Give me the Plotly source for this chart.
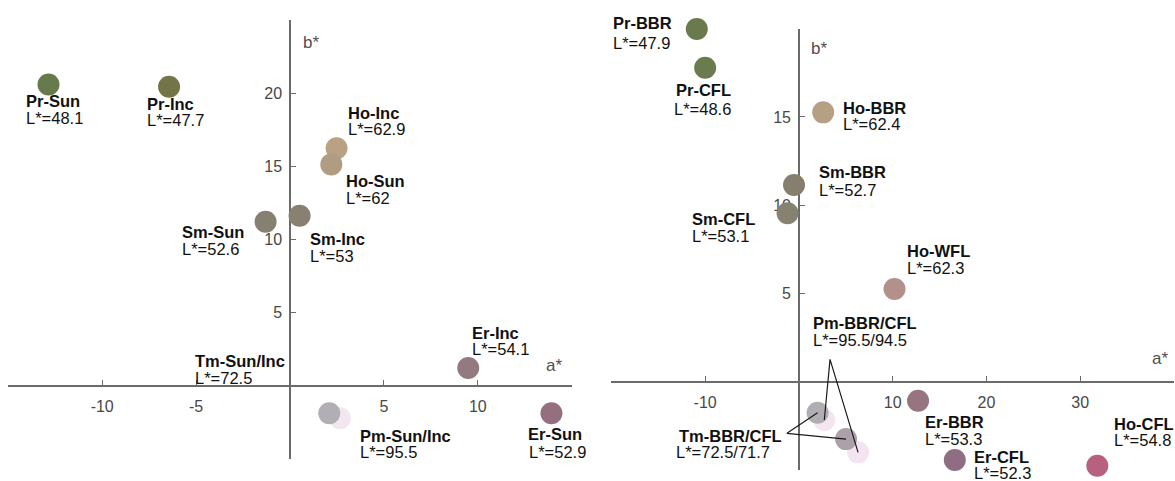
import plotly.graph_objects as go

# ---------------------------------------------------------------
# Data: CIELAB a*/b* of pigments under different illuminants
# ---------------------------------------------------------------

# Left panel: sunlight / incandescent
left_names = ["Pm-Sun/Inc", "Tm-Sun/Inc", "Pr-Sun", "Pr-Inc", "Ho-Inc",
              "Ho-Sun", "Sm-Sun", "Sm-Inc", "Er-Inc", "Er-Sun"]
left_a = [2.66, 2.09, -12.86, -6.44, 2.48, 2.20, -1.30, 0.51, 9.49, 13.92]
left_b = [-2.20, -1.86, 20.59, 20.43, 16.23, 15.13, 11.22, 11.62, 1.23, -1.86]
left_L = ["95.5", "72.5", "48.1", "47.7", "62.9", "62", "52.6", "53", "54.1", "52.9"]

# Right panel: black-body radiator / fluorescent lamps
right_names = ["Pm-BBR", "Pm-CFL", "Tm-BBR", "Tm-CFL", "Pr-BBR", "Pr-CFL",
               "Ho-BBR", "Sm-BBR", "Sm-CFL", "Ho-WFL", "Er-BBR", "Er-CFL", "Ho-CFL"]
right_a = [2.71, 6.31, 1.99, 5.03, -10.89, -10.00, 2.59, -0.52, -1.21,
           10.20, 12.71, 16.63, 31.83]
right_b = [-2.15, -3.98, -1.74, -3.23, 19.98, 17.79, 15.26, 11.15, 9.55,
           5.26, -1.06, -4.41, -4.74]
right_L = ["95.5", "94.5", "72.5", "71.7", "47.9", "48.6", "62.4", "52.7", "53.1",
           "62.3", "53.3", "52.3", "54.8"]

# Axis ticks
left_xticks = [-15, -10, -5, 5, 10, 15]
left_yticks = [-5, 5, 10, 15, 20, 25]
right_xticks = [-20, -10, 10, 20, 30, 40]
right_yticks = [-5, 5, 10, 15, 20]
left_xtick_text = ["", "-10", "-5", "5", "10", ""]
left_ytick_text = ["", "5", "10", "15", "20", ""]
right_xtick_text = ["", "-10", "10", "20", "30", ""]
right_ytick_text = ["", "5", "10", "15", ""]

# ---------------------------------------------------------------
# Styling
# ---------------------------------------------------------------
W, H = 1175, 481
FONT = "Liberation Sans, Arial, Helvetica, sans-serif"
AXIS_COLOR = "#6b6b6b"
TICK_TEXT = "#474747"
MARKER_SIZE = 22
LABEL_SIZE = 16.5

left_colors = ["#f2e6f0", "#b1aeb4", "#667a4b", "#737548", "#b8a283",
               "#b09c80", "#858070", "#888070", "#937a80", "#94707f"]
right_colors = ["#f3e6f1", "#f4e4f2", "#b0adb3", "#aca1a9", "#6a7a4e", "#6b7b4f",
                "#b5a084", "#877f6d", "#878170", "#b3908a", "#967580", "#8f6e84",
                "#b8607f"]

# Label placement (pixel offsets from the anchor point):
# (anchor index, extra indices, name, dx1, dy1, dx2, dy2)
left_labels = [
    (0, [], None, 19, 18, 19, 34),
    (1, [], None, -135, -52, -135, -35),
    (2, [], None, -23, 17, -23, 34),
    (3, [], None, -23, 17, -23, 33),
    (4, [], None, 10, -35, 10, -19),
    (5, [], None, 14, 17, 14, 34),
    (6, [], None, -85, 10, -85, 27),
    (7, [], None, 9, 23, 9, 40),
    (8, [], None, 3, -35, 3, -19),
    (9, [], None, -24, 21, -23, 39),
]
right_labels = [
    (0, [1], "Pm-BBR/CFL", -12, -97, -12, -80),
    (2, [3], "Tm-BBR/CFL", -140, 23, -143, 39),
    (4, [], None, -85, -6, -85, 14),
    (5, [], None, -30, 22, -32, 41),
    (6, [], None, 19, -4, 19, 12),
    (7, [], None, 24, -13, 24, 5),
    (8, [], None, -97, 6, -97, 23),
    (9, [], None, 11, -38, 11, -21),
    (10, [], None, 6, 21, 6, 38),
    (11, [], None, 18, -3, 18, 13),
    (12, [], None, 16, -42, 16, -26),
]

# Apex points of the leader lines for the combined labels (data units)
PM_APEX = (3.32, 1.28)
TM_APEX = (-1.28, -2.90)

panels = [
    dict(x="x", y="y", xr=(-15, 15), yr=(-5, 25),
         xdom=(8.3 / W, 571.7 / W), ydom=((H - 459.3) / H, (H - 19.8) / H),
         a=left_a, b=left_b, L=left_L, names=left_names, colors=left_colors,
         labels=left_labels,
         xt=left_xticks, xtt=left_xtick_text, yt=left_yticks, ytt=left_ytick_text,
         astar=(-18, 21), bstar=(21, -23)),
    dict(x="x2", y="y2", xr=(-20, 40), yr=(-5, 20),
         xdom=(611.4 / W, 1173.9 / W), ydom=((H - 470.4) / H, (H - 28.6) / H),
         a=right_a, b=right_b, L=right_L, names=right_names, colors=right_colors,
         labels=right_labels,
         xt=right_xticks, xtt=right_xtick_text, yt=right_yticks, ytt=right_ytick_text,
         astar=(-14, 24), bstar=(20, -20)),
]

fig = go.Figure()
annotations = []
layout_axes = {}

for i, p in enumerate(panels):
    # Markers
    fig.add_trace(go.Scatter(
        x=p["a"], y=p["b"], mode="markers", xaxis=p["x"], yaxis=p["y"],
        marker=dict(size=MARKER_SIZE, color=p["colors"], line=dict(width=0)),
        cliponaxis=False, hoverinfo="skip", showlegend=False,
    ))

    # Axes crossing at the origin
    xr, yr = p["xr"], p["yr"]
    xd, yd = p["xdom"], p["ydom"]
    x_at_zero = xd[0] + (0 - xr[0]) / (xr[1] - xr[0]) * (xd[1] - xd[0])
    y_at_zero = yd[0] + (0 - yr[0]) / (yr[1] - yr[0]) * (yd[1] - yd[0])
    suffix = "" if i == 0 else str(i + 1)
    common = dict(showgrid=False, zeroline=False, showline=True,
                  linecolor=AXIS_COLOR, linewidth=1.5, ticks="inside",
                  ticklen=5, tickwidth=1.3, tickcolor=AXIS_COLOR,
                  tickfont=dict(family=FONT, size=16, color=TICK_TEXT),
                  layer="below traces", fixedrange=True)
    layout_axes["xaxis" + suffix] = dict(
        common, domain=list(xd), range=list(xr), anchor="free",
        position=y_at_zero, tickvals=p["xt"], ticktext=p["xtt"],
        ticklabelstandoff=6)
    layout_axes["yaxis" + suffix] = dict(
        common, domain=list(yd), range=list(yr), anchor="free",
        position=x_at_zero, tickvals=p["yt"], ticktext=p["ytt"],
        ticklabelstandoff=4)

    # Axis names
    annotations.append(dict(
        x=xr[1], y=0, xref=p["x"], yref=p["y"], text="a*", showarrow=False,
        xanchor="center", yanchor="middle", xshift=p["astar"][0], yshift=p["astar"][1],
        font=dict(family=FONT, size=17, color="#505050")))
    annotations.append(dict(
        x=0, y=yr[1], xref=p["x"], yref=p["y"], text="b*", showarrow=False,
        xanchor="center", yanchor="middle", xshift=p["bstar"][0], yshift=p["bstar"][1],
        font=dict(family=FONT, size=17, color="#505050")))

    # Point labels
    for idx, extra, name, dx1, dy1, dx2, dy2 in p["labels"]:
        title = name if name else p["names"][idx]
        lvals = "/".join([p["L"][idx]] + [p["L"][j] for j in extra])
        for txt, dx, dy in ((f"<b>{title}</b>", dx1, dy1), (f"L*={lvals}", dx2, dy2)):
            annotations.append(dict(
                x=p["a"][idx], y=p["b"][idx], xref=p["x"], yref=p["y"],
                text=txt, showarrow=False, xanchor="left", yanchor="middle",
                xshift=dx, yshift=-dy, borderpad=0,
                font=dict(family=FONT, size=LABEL_SIZE, color="#111111")))

# Leader lines from the combined labels to their points (right panel)
for apex, pair in ((PM_APEX, (0, 1)), (TM_APEX, (2, 3))):
    fig.add_trace(go.Scatter(
        x=[right_a[pair[0]], apex[0], right_a[pair[1]]],
        y=[right_b[pair[0]], apex[1], right_b[pair[1]]],
        mode="lines", xaxis="x2", yaxis="y2",
        line=dict(color="#1a1a1a", width=1.2),
        cliponaxis=False, hoverinfo="skip", showlegend=False,
    ))

fig.update_layout(
    width=W, height=H,
    margin=dict(l=0, r=0, t=0, b=0),
    paper_bgcolor="white", plot_bgcolor="white",
    annotations=annotations,
    **layout_axes,
)

fig.write_html("out.html")
